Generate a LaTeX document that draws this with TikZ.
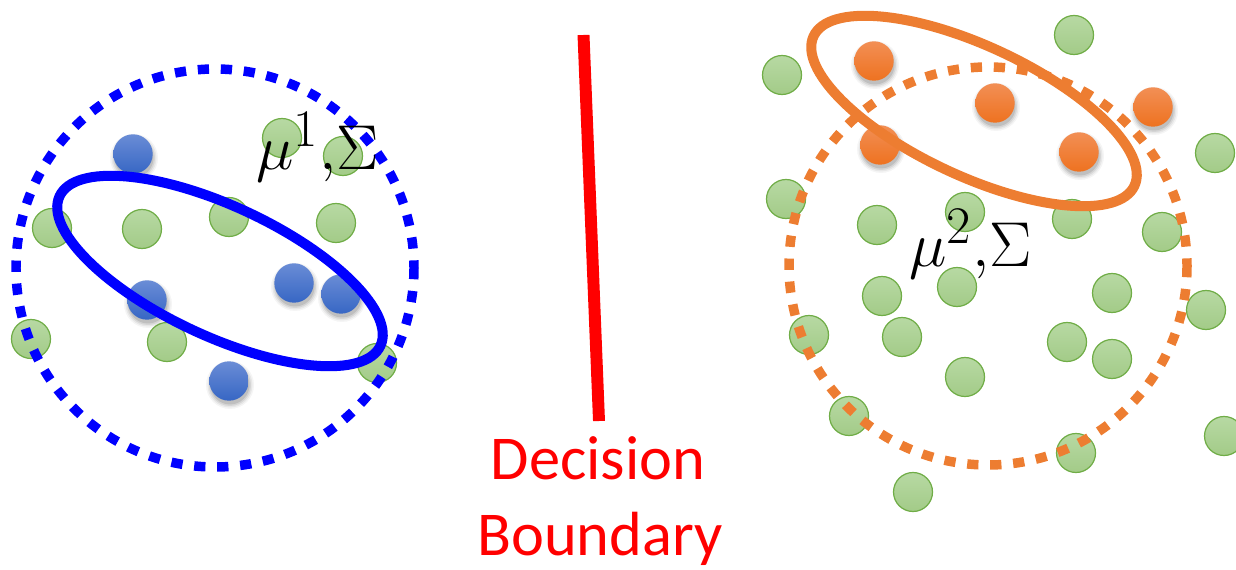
\documentclass[tikz,border=0pt]{standalone}
\usepackage{fontspec}
\newfontfamily\calib{Carlito}
\definecolor{bluec}{HTML}{0000FF}
\definecolor{orangec}{HTML}{ED7D31}
\definecolor{grtop}{HTML}{B7D9A3}
\definecolor{grbot}{HTML}{A3CB88}
\definecolor{grline}{HTML}{70AD47}
\definecolor{btop}{HTML}{6A8DD6}
\definecolor{bbot}{HTML}{3766C4}
\definecolor{otop}{HTML}{F28F55}
\definecolor{obot}{HTML}{EE7220}
\tikzset{
  greendot/.style={draw=grline, line width=0.7pt, top color=grtop, bottom color=grbot},
  bluedot/.style={top color=btop, bottom color=bbot},
  orangedot/.style={top color=otop, bottom color=obot},
  dotring/.style={line width=5.4pt, dash pattern=on 6.4pt off 6.7pt},
  solidring/.style={line width=5.7pt},
  mathlabel/.style={anchor=base west, inner sep=0pt, font=\Huge, scale=1.45},
  redlabel/.style={anchor=base, inner sep=0pt, text=red, font=\calib\fontsize{35.5}{42}\selectfont}
}
\begin{document}
\begin{tikzpicture}[x=0.02cm,y=-0.02cm]
\useasboundingbox (0,0) rectangle (1236,570);

% green points
\foreach \x/\y in {282/138,343/156,52/228,142/229,229/217,336/223,31/339,167/342,377/363,
  1074/35,782/75,1215/153,786/199,877/225,965/212,1072/219,1162/232,882/296,957/287,
  1112/293,1206/310,809/335,902/337,1067/342,1112/359,965/377,1224/436,849/416,1076/453,913/492}
  \shadedraw[greendot] (\x,\y) circle[radius=19.5];

% shadows of coloured points
\foreach \x/\y in {133/154,147/300,294/283,341/294,229/381,874/61,995/103,1153/107,880/145,1079/152}
  \foreach \r/\o in {24/0.04,22.5/0.06,21/0.08,19.5/0.1}
    \fill[black,opacity=\o] (\x+1,\y+4) circle[radius=\r];

% blue points
\foreach \x/\y in {133/154,147/300,294/283,341/294,229/381}
  \shade[bluedot] (\x,\y) circle[radius=19.7];
% orange points
\foreach \x/\y in {874/61,995/103,1153/107,880/145,1079/152}
  \shade[orangedot] (\x,\y) circle[radius=19.7];

% ellipses
\draw[bluec, solidring, rotate around={-25:(220,271)}] (220,271) ellipse[x radius=177, y radius=65];
\draw[orangec, solidring, rotate around={-25:(974,111)}] (974,111) ellipse[x radius=177, y radius=65];

% dotted circles
\draw[bluec, dotring] (215,268) circle[radius=199];
\draw[orangec, dotring] (988,266) circle[radius=199];

% labels
\node[mathlabel] (mu1) at (256,170) {$\mu^1{,}\Sigma$};
\node[mathlabel] (mu2) at (909,267) {$\mu^2{,}\Sigma$};

% decision boundary
\coordinate (btop) at (583.5,35);
\coordinate (bbot) at (599,421);
\draw[red, line width=6.8pt] (btop) -- (bbot);
\node[redlabel] (dec) at (598,479) {Decision};
\node[redlabel] (bnd) at (600,555) {Boundary};
\end{tikzpicture}
\end{document}
